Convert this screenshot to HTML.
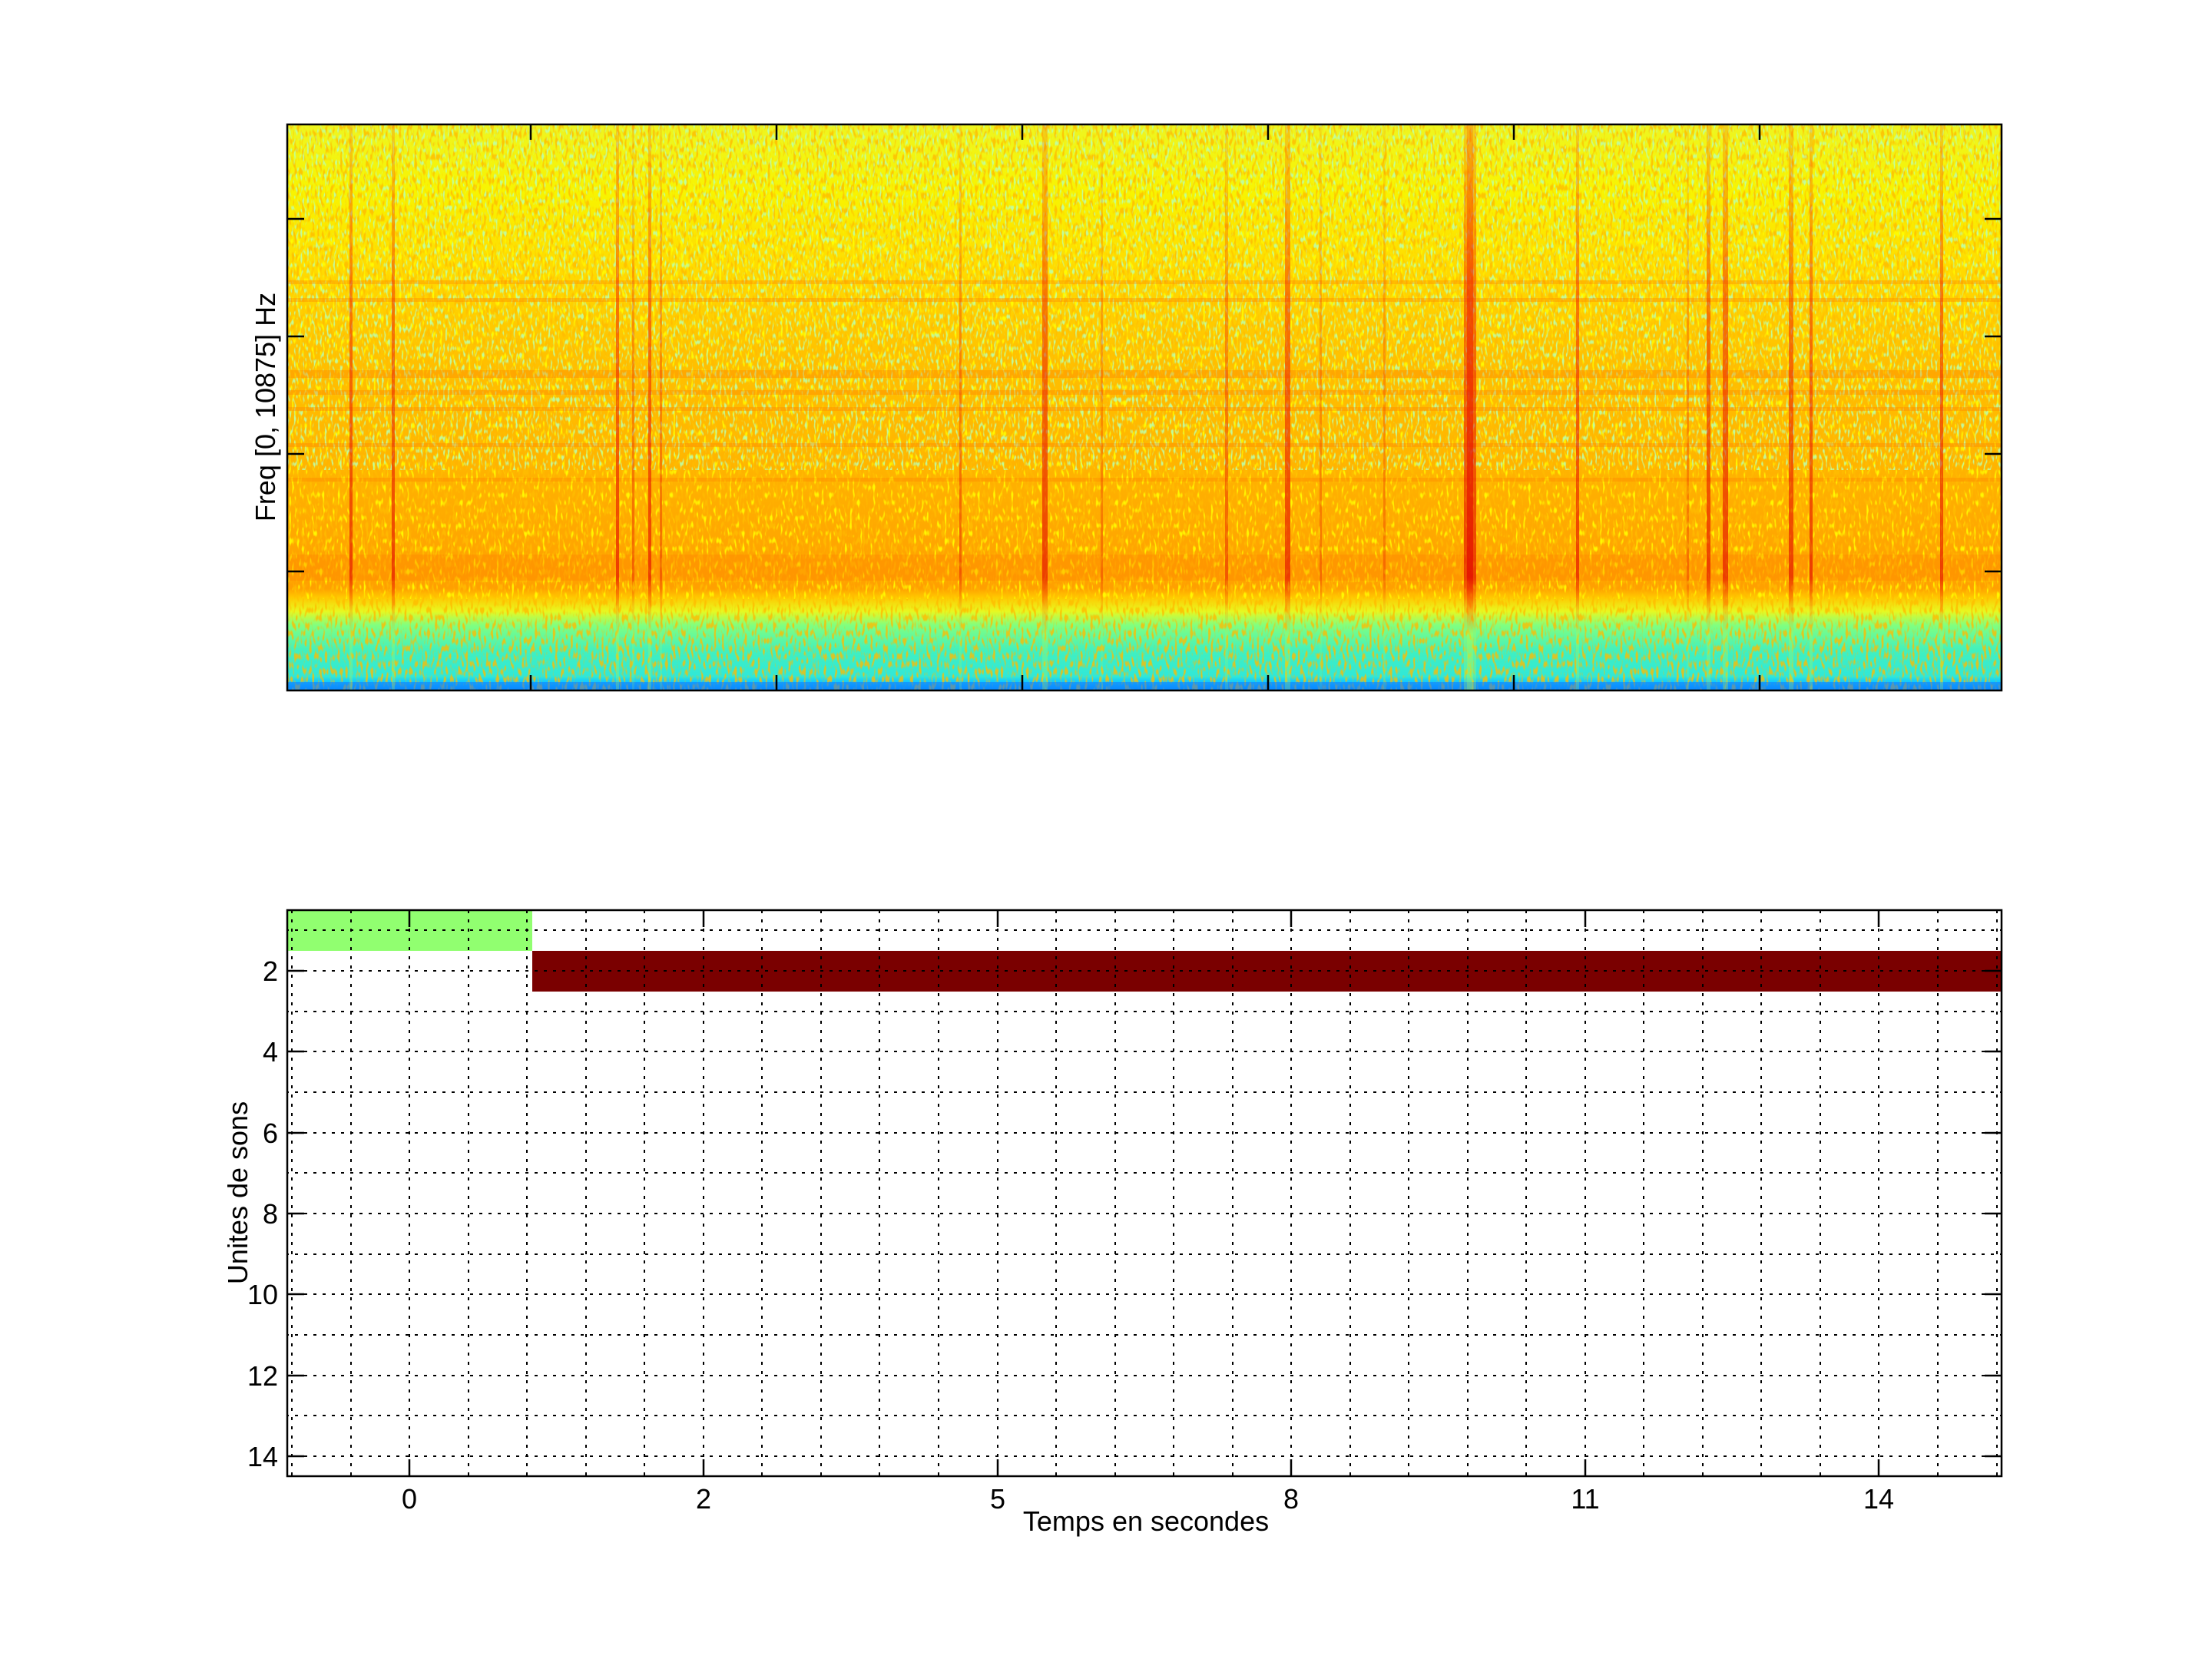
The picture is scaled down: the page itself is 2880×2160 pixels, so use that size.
<!DOCTYPE html>
<html><head><meta charset="utf-8"><style>
html,body{margin:0;padding:0;background:#fff;}
svg{display:block;}
text{font-family:"Liberation Sans",sans-serif;fill:#000;}
</style></head><body>
<svg width="2880" height="2160" viewBox="0 0 2880 2160" xmlns="http://www.w3.org/2000/svg">
<defs>
<linearGradient id="bg" x1="0" y1="162" x2="0" y2="899" gradientUnits="userSpaceOnUse">
<stop offset="0" stop-color="#eef520"/>
<stop offset="0.12" stop-color="#f8f400"/>
<stop offset="0.25" stop-color="#ffdc00"/>
<stop offset="0.42" stop-color="#ffc000"/>
<stop offset="0.6" stop-color="#ffb400"/>
<stop offset="0.76" stop-color="#ffa400"/>
<stop offset="0.82" stop-color="#ffa000"/>
<stop offset="0.835" stop-color="#ffc800"/>
<stop offset="0.86" stop-color="#e8f820"/>
<stop offset="0.885" stop-color="#80ff80"/>
<stop offset="0.93" stop-color="#40f0c0"/>
<stop offset="0.975" stop-color="#30e8d8"/>
<stop offset="0.985" stop-color="#10c8ff"/>
<stop offset="1" stop-color="#0090ff"/>
</linearGradient>
<linearGradient id="vl" x1="0" y1="162" x2="0" y2="899" gradientUnits="userSpaceOnUse">
<stop offset="0" stop-color="#ff4000" stop-opacity="0.2"/>
<stop offset="0.3" stop-color="#f02000" stop-opacity="0.5"/>
<stop offset="0.8" stop-color="#e00000" stop-opacity="0.6"/>
<stop offset="0.86" stop-color="#ff4000" stop-opacity="0.2"/>
<stop offset="0.9" stop-color="#c0ff40" stop-opacity="0.25"/>
<stop offset="1" stop-color="#c0ff40" stop-opacity="0.25"/>
</linearGradient>
<filter id="spk" x="0" y="0" width="100%" height="100%">
<feTurbulence type="fractalNoise" baseFrequency="0.35 0.12" numOctaves="1" seed="3"/>
<feColorMatrix type="matrix" values="0 0 0 0 0.5  0 0 0 0 1  0 0 0 0 0.4  0 0 0 6 -3.3"/>
</filter>
<filter id="spk2" x="0" y="0" width="100%" height="100%">
<feTurbulence type="fractalNoise" baseFrequency="0.3 0.1" numOctaves="1" seed="11"/>
<feColorMatrix type="matrix" values="0 0 0 0 1  0 0 0 0 0.5  0 0 0 0 0  0 0 0 6 -3.0"/>
</filter>
<filter id="spk3" x="0" y="0" width="100%" height="100%">
<feTurbulence type="fractalNoise" baseFrequency="0.3 0.1" numOctaves="1" seed="21"/>
<feColorMatrix type="matrix" values="0 0 0 0 1  0 0 0 0 1  0 0 0 0 0  0 0 0 6 -3.4"/>
</filter>
<clipPath id="cp"><rect x="374" y="162" width="2232" height="737"/></clipPath>
</defs>

<g clip-path="url(#cp)">
<rect x="374" y="162" width="2232" height="737" fill="url(#bg)"/>
<rect x="374" y="162" width="2232" height="737" filter="url(#spk2)" opacity="0.8"/>
<rect x="374" y="300" width="2232" height="480" filter="url(#spk3)" opacity="0.9"/>
<rect x="374" y="162" width="2232" height="450" filter="url(#spk)" opacity="0.9"/>
<g fill="#ff8000" opacity="0.35">
<rect x="374" y="365" width="2232" height="5"/>
<rect x="374" y="388" width="2232" height="5"/>
<rect x="374" y="482" width="2232" height="10"/>
<rect x="374" y="508" width="2232" height="6"/>
<rect x="374" y="530" width="2232" height="5"/>
<rect x="374" y="577" width="2232" height="5"/>
<rect x="374" y="622" width="2232" height="5"/>
<rect x="374" y="722" width="2232" height="34"/>
</g>
<rect x="374" y="888" width="2232" height="11" fill="#1080ff" opacity="0.6"/>
<g fill="url(#vl)">
<rect x="455" y="162" width="4" height="737"/>
<rect x="510" y="162" width="4" height="737"/>
<rect x="802" y="162" width="4" height="737"/>
<rect x="823" y="162" width="3" height="737" opacity="0.6"/>
<rect x="844" y="162" width="4" height="737"/>
<rect x="859" y="162" width="3" height="737" opacity="0.6"/>
<rect x="1249" y="162" width="3" height="737" opacity="0.7"/>
<rect x="1357" y="162" width="7" height="737"/>
<rect x="1433" y="162" width="3" height="737" opacity="0.5"/>
<rect x="1595" y="162" width="4" height="737" opacity="0.7"/>
<rect x="1673" y="162" width="7" height="737"/>
<rect x="1718" y="162" width="3" height="737" opacity="0.5"/>
<rect x="1801" y="162" width="3" height="737" opacity="0.5"/>
<rect x="1906" y="162" width="16" height="737"/>
<rect x="1910" y="162" width="8" height="737"/>
<rect x="2052" y="162" width="4" height="737"/>
<rect x="2196" y="162" width="3" height="737" opacity="0.5"/>
<rect x="2222" y="162" width="5" height="737"/>
<rect x="2243" y="162" width="7" height="737"/>
<rect x="2329" y="162" width="6" height="737"/>
<rect x="2356" y="162" width="4" height="737"/>
<rect x="2526" y="162" width="4" height="737"/>
</g>
</g>
<rect x="374" y="162" width="2232" height="737" fill="none" stroke="#000" stroke-width="2.5"/>
<g stroke="#000" stroke-width="2.5">
<path d="M691 162v20M1011 162v20M1331 162v20M1651 162v20M1971 162v20M2291 162v20"/>
<path d="M691 899v-20M1011 899v-20M1331 899v-20M1651 899v-20M1971 899v-20M2291 899v-20"/>
<path d="M374 285h22M374 438h22M374 591h22M374 744h22"/>
<path d="M2606 285h-22M2606 438h-22M2606 591h-22M2606 744h-22"/>
</g>
<text transform="translate(358,530) rotate(-90)" text-anchor="middle" font-size="36">Freq [0, 10875] Hz</text>

<rect x="374" y="1185" width="319" height="53" fill="#91ff70"/>
<rect x="693" y="1238" width="1913" height="53" fill="#7a0000"/>
<g stroke="#000" stroke-width="2" stroke-dasharray="2,8,2,0" fill="none">
<path d="M374 1211h2232M374 1264h2232M374 1317h2232M374 1369h2232M374 1422h2232M374 1475h2232M374 1527h2232M374 1580h2232M374 1633h2232M374 1685h2232M374 1738h2232M374 1791h2232M374 1843h2232M374 1896h2232"/>
</g>
<g stroke="#000" stroke-width="2" stroke-dasharray="4,8" fill="none">
<path d="M380 1185v737M457 1185v737M533 1185v737M610 1185v737M686 1185v737M763 1185v737M839 1185v737M916 1185v737M992 1185v737M1069 1185v737M1145 1185v737M1222 1185v737M1299 1185v737M1375 1185v737M1452 1185v737M1528 1185v737M1605 1185v737M1681 1185v737M1758 1185v737M1834 1185v737M1911 1185v737M1987 1185v737M2064 1185v737M2140 1185v737M2217 1185v737M2293 1185v737M2370 1185v737M2446 1185v737M2523 1185v737M2600 1185v737"/>
</g>
<rect x="374" y="1185" width="2232" height="737" fill="none" stroke="#000" stroke-width="2.5"/>
<g stroke="#000" stroke-width="2.5">
<path d="M533 1185v22M916 1185v22M1299 1185v22M1681 1185v22M2064 1185v22M2446 1185v22"/>
<path d="M533 1922v-22M916 1922v-22M1299 1922v-22M1681 1922v-22M2064 1922v-22M2446 1922v-22"/>
<path d="M374 1264h22M374 1369h22M374 1475h22M374 1580h22M374 1685h22M374 1791h22M374 1896h22"/>
<path d="M2606 1264h-22M2606 1369h-22M2606 1475h-22M2606 1580h-22M2606 1685h-22M2606 1791h-22M2606 1896h-22"/>
</g>
<g font-size="36" text-anchor="end">
<text x="362" y="1277">2</text>
<text x="362" y="1382">4</text>
<text x="362" y="1488">6</text>
<text x="362" y="1593">8</text>
<text x="362" y="1698">10</text>
<text x="362" y="1804">12</text>
<text x="362" y="1909">14</text>
</g>
<g font-size="36" text-anchor="middle">
<text x="533" y="1964">0</text>
<text x="916" y="1964">2</text>
<text x="1299" y="1964">5</text>
<text x="1681" y="1964">8</text>
<text x="2064" y="1964">11</text>
<text x="2446" y="1964">14</text>
</g>
<text x="1492" y="1993" font-size="36" text-anchor="middle">Temps en secondes</text>
<text transform="translate(322,1553) rotate(-90)" text-anchor="middle" font-size="36">Unites de sons</text>
</svg>
</body></html>
